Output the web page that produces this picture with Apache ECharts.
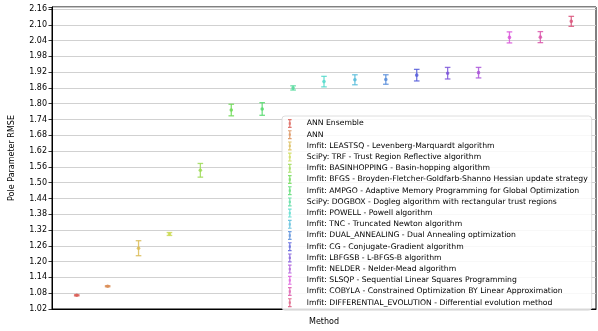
<!DOCTYPE html>
<html>
<head>
<meta charset="utf-8">
<script src="https://cdn.jsdelivr.net/npm/echarts@6/dist/echarts.min.js"></script>
<style>
  html, body { margin: 0; padding: 0; background: #fff; }
  #chart { width: 598px; height: 331px; }
</style>
</head>
<body>
<div id="chart"></div>
<script>
// methods in plotting order
var methods = [
  'ANN Ensemble',
  'ANN',
  'lmfit: LEASTSQ - Levenberg-Marquardt algorithm',
  'SciPy: TRF - Trust Region Reflective algorithm',
  'lmfit: BASINHOPPING - Basin-hopping algorithm',
  'lmfit: BFGS - Broyden-Fletcher-Goldfarb-Shanno Hessian update strategy',
  'lmfit: AMPGO - Adaptive Memory Programming for Global Optimization',
  'SciPy: DOGBOX - Dogleg algorithm with rectangular trust regions',
  'lmfit: POWELL - Powell algorithm',
  'lmfit: TNC - Truncated Newton algorithm',
  'lmfit: DUAL_ANNEALING - Dual Annealing optimization',
  'lmfit: CG - Conjugate-Gradient algorithm',
  'lmfit: LBFGSB - L-BFGS-B algorithm',
  'lmfit: NELDER - Nelder-Mead algorithm',
  'lmfit: SLSQP - Sequential Linear Squares Programming',
  'lmfit: COBYLA - Constrained Optimization BY Linear Approximation',
  'lmfit: DIFFERENTIAL_EVOLUTION - Differential evolution method'
];
var rmseMean = [1.072, 1.1065, 1.251, 1.305, 1.547, 1.776, 1.780, 1.860, 1.884,
                1.891, 1.892, 1.9085, 1.916, 1.918, 2.052, 2.053, 2.113];
var rmseErr = [0.002, 0.002, 0.0285, 0.0056, 0.026, 0.022, 0.024, 0.008, 0.020,
               0.019, 0.018, 0.022, 0.022, 0.020, 0.021, 0.021, 0.019];
var yTicks = { min: 1.02, max: 2.1675, step: 0.06 };

var chart = echarts.init(document.getElementById('chart'));

function colorFor(i) {
  var h = 3.6 + i * 360 / methods.length;
  return 'hsla(' + h.toFixed(1) + ', 65%, 60%, 0.85)';
}

function renderItem(params, api) {
  var x = api.value(0), y = api.value(1), e = api.value(2);
  var top = api.coord([x, y + e]);
  var bot = api.coord([x, y - e]);
  var mid = api.coord([x, y]);
  var color = api.visual('color');
  var lw = 1.3, cap = 2.8;
  return {
    type: 'group',
    children: [
      { type: 'line', shape: { x1: top[0], y1: top[1], x2: bot[0], y2: bot[1] }, style: { stroke: color, lineWidth: lw } },
      { type: 'line', shape: { x1: top[0] - cap, y1: top[1], x2: top[0] + cap, y2: top[1] }, style: { stroke: color, lineWidth: lw } },
      { type: 'line', shape: { x1: bot[0] - cap, y1: bot[1], x2: bot[0] + cap, y2: bot[1] }, style: { stroke: color, lineWidth: lw } },
      { type: 'circle', shape: { cx: mid[0], cy: mid[1], r: 1.8 }, style: { fill: color } }
    ]
  };
}

// error-bar glyph for the legend
var errIcon = 'path://M1,0h8v2.6h-8z M3.7,0h2.6v20h-2.6z M1,17.4h8v2.6h-8z M2.6,7.4h4.8v5.2h-4.8z';

var series = methods.map(function (name, i) {
  return {
    name: name,
    type: 'custom',
    renderItem: renderItem,
    itemStyle: { color: colorFor(i) },
    encode: { x: 0, y: 1 },
    data: [[i, rmseMean[i], rmseErr[i]]],
    silent: true
  };
});

var font = 'DejaVu Sans';

chart.setOption({
  animation: false,
  textStyle: { fontFamily: font },
  grid: {
    left: 49, right: 2, top: 7, bottom: 15,
    show: true, borderColor: '#000', borderWidth: 1, backgroundColor: 'transparent'
  },
  xAxis: {
    type: 'value',
    min: -0.8,
    max: 16.8,
    name: 'Method',
    nameLocation: 'middle',
    nameGap: 9,
    nameTextStyle: { fontSize: 8, color: '#000', fontFamily: font },
    axisLine: { show: true, onZero: false, lineStyle: { color: '#000', width: 1 } },
    axisTick: { show: false },
    axisLabel: { show: false },
    splitLine: { show: false }
  },
  yAxis: {
    type: 'value',
    min: yTicks.min,
    max: yTicks.max,
    interval: yTicks.step,
    name: 'Pole Parameter RMSE',
    nameLocation: 'middle',
    nameGap: 36,
    nameTextStyle: { fontSize: 8, color: '#000', fontFamily: font },
    axisLine: { show: true, onZero: false, lineStyle: { color: '#000', width: 1 } },
    axisTick: { show: true, length: 3.5, lineStyle: { color: '#000', width: 0.8 } },
    axisLabel: {
      fontSize: 8, color: '#000', margin: 5, fontFamily: font,
      formatter: function (v) {
        var k = (v - yTicks.min) / yTicks.step;
        return Math.abs(k - Math.round(k)) < 1e-6 ? v.toFixed(2) : '';
      }
    },
    splitLine: { show: true, lineStyle: { color: '#cccccc', width: 0.9 } }
  },
  legend: {
    orient: 'vertical',
    left: 282,
    top: 116,
    padding: [3, 4, 3, 6],
    backgroundColor: 'rgba(255,255,255,0.85)',
    borderColor: '#d6d6d6',
    borderWidth: 0.8,
    borderRadius: 3,
    itemWidth: 10,
    itemHeight: 9,
    itemGap: 2.2,
    textStyle: { fontSize: 7.7, color: '#000', fontFamily: font, padding: [0, 0, 0, 7] },
    data: methods.map(function (m) { return { name: m, icon: errIcon }; })
  },
  series: series
});
</script>
</body>
</html>
